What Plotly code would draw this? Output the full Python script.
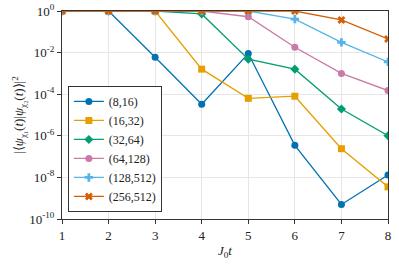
import plotly.graph_objects as go

t = [1, 2, 3, 4, 5, 6, 7, 8]
labels = ["(8,16)", "(16,32)", "(32,64)", "(64,128)", "(128,512)", "(256,512)"]
s_8_16 = [1, 1, 6e-3, 3.3e-5, 9e-3, 3.5e-7, 5e-10, 1.3e-8]
s_16_32 = [1, 1, 1, 1.6e-3, 6.3e-5, 8e-5, 2.4e-7, 3.5e-9]
s_32_64 = [1, 1, 1, 0.72, 4.8e-3, 1.6e-3, 1.95e-5, 1e-6]
s_64_128 = [1, 1, 1, 1, 0.53, 0.018, 1e-3, 1.5e-4]
s_128_512 = [1, 1, 1, 1, 1, 0.41, 0.031, 3.6e-3]
s_256_512 = [1, 1, 1, 1, 1, 1, 0.37, 0.045]
series = [s_8_16, s_16_32, s_32_64, s_64_128, s_128_512, s_256_512]
colors = ["#0072B2", "#E69F00", "#009E73", "#CC79A7", "#56B4E9", "#D55E00"]
symbols = ["circle", "square", "diamond", "circle", "cross", "x"]
ytickvals = [1, 1e-2, 1e-4, 1e-6, 1e-8, 1e-10]
yticktext = ["10<sup>0</sup>", "10<sup>-2</sup>", "10<sup>-4</sup>", "10<sup>-6</sup>", "10<sup>-8</sup>", "10<sup>-10</sup>"]

fig = go.Figure()
for lab, ys, c, sym in zip(labels, series, colors, symbols):
    fig.add_trace(go.Scatter(
        x=t, y=ys, name=lab, mode="lines+markers",
        line=dict(color=c, width=1.3),
        marker=dict(symbol=sym, size=7, color=c, line=dict(width=0)),
    ))

font = "Liberation Serif"
fig.update_layout(
    width=399, height=266,
    margin=dict(l=62, r=11, t=11, b=47),
    paper_bgcolor="white", plot_bgcolor="white",
    font=dict(family=font, size=13, color="#222"),
    showlegend=True,
    legend=dict(x=0.018, y=0.034, xanchor="left", yanchor="bottom",
                bordercolor="#333", borderwidth=1, bgcolor="white",
                font=dict(size=12, family=font), tracegroupgap=0,
                itemwidth=30),
    xaxis=dict(range=[1, 8], tickvals=t, showgrid=True, gridcolor="#e6e6e6",
               showline=True, linecolor="#333", linewidth=1.3, mirror=True,
               ticks="outside", ticklen=4, tickcolor="#333", zeroline=False,
               automargin=False,
               title=dict(text="<i>J</i><sub>0</sub><i>t</i>", standoff=4,
                          font=dict(size=13))),
    yaxis=dict(type="log", range=[-10, 0], tickvals=ytickvals, ticktext=yticktext,
               showgrid=True, gridcolor="#e6e6e6",
               showline=True, linecolor="#333", linewidth=1.3, mirror=True,
               ticks="outside", ticklen=4, tickcolor="#333", zeroline=False,
               automargin=False,
               title=dict(text="|⟨<i>ψ</i><sub>χ₁</sub>(<i>t</i>)|<i>ψ</i><sub>χ₂</sub>(<i>t</i>)⟩|<sup>2</sup>",
                          standoff=2, font=dict(size=13))),
)
fig.write_html("out.html", config={"displayModeBar": False},
               post_script="document.body.style.margin='0';")
